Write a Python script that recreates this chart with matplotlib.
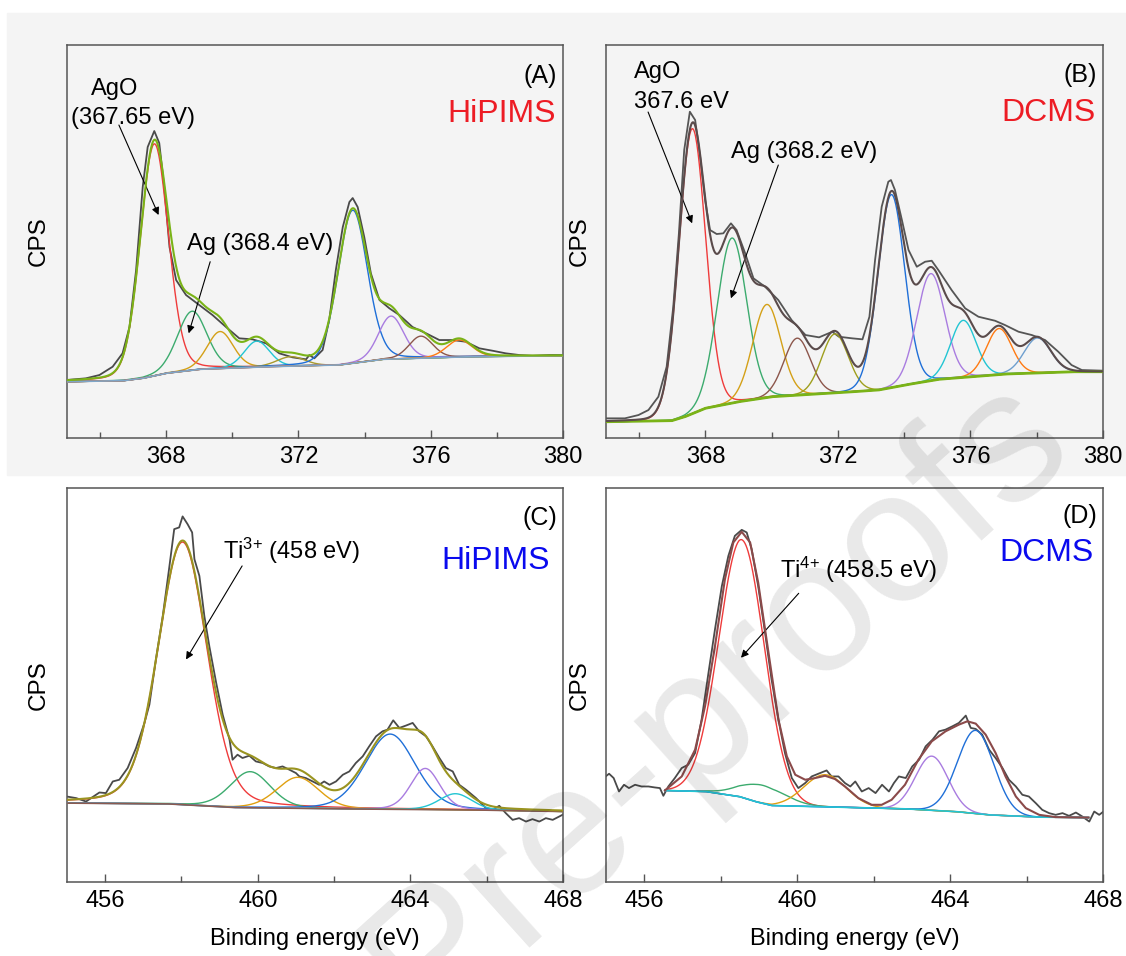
import numpy as np
import matplotlib
matplotlib.use('Agg')
import matplotlib.pyplot as plt
from matplotlib.patches import Rectangle
from matplotlib.ticker import MultipleLocator

plt.rcParams['font.family'] = ['Liberation Sans', 'DejaVu Sans']
plt.rcParams['mathtext.fontset'] = 'custom'
plt.rcParams['mathtext.rm'] = 'Liberation Sans'
plt.rcParams['mathtext.it'] = 'Liberation Sans:italic'

## (A) Ag 3d, HiPIMS  -- intensities in arbitrary units
a_raw_e = [364.97, 365.57, 365.98, 366.38, 366.68, 366.89, 367.09, 367.29, 367.44, 367.64,
           367.79, 367.94, 368.10, 368.30, 368.60, 369.00, 369.40, 369.81, 370.21, 370.61,
           371.02, 371.42, 371.82, 372.23, 372.33, 372.48, 372.73, 372.93, 373.13, 373.34,
           373.54, 373.64, 373.79, 373.99, 374.19, 374.45, 374.75, 375.05, 375.45, 375.86,
           376.26, 376.66, 377.06, 377.47, 377.87, 378.27, 378.68, 379.08, 379.58, 380.09]
a_raw_i = [58, 59.7, 63, 71.3, 84.7, 111, 168, 251, 291, 307,
           295, 251, 191, 158, 143, 133, 123, 111, 99.7, 98.7,
           94.7, 84.7, 80.7, 78.7, 83, 79.7, 88, 118, 168, 211,
           236, 240, 231, 201, 164.7, 138, 129.7, 123, 111, 104.7,
           98, 98, 96.3, 89.7, 87.3, 84.7, 83, 82.3, 83, 83]
a_bg_e = [365.0, 366.7, 367.29, 367.99, 369.0, 371.02, 373.23, 374.54, 377.07, 380.0]
a_bg_i = [56.3, 57.3, 59.7, 64.7, 68.7, 71.3, 73, 78.7, 81.3, 82.3]
a_pos = [367.64, 368.78, 369.63, 370.74, 371.77, 373.64, 374.80, 375.70, 376.86]
a_amp = [232, 59, 37, 26, 9.5, 153, 43, 22, 17]
a_fwhm = [1.0, 1.05, 0.93, 0.9, 1.0, 1.05, 0.9, 0.85, 0.9]

## (B) Ag 3d, DCMS
b_raw_e = [364.98, 365.57, 365.98, 366.28, 366.58, 366.83, 367.03, 367.20, 367.36, 367.53,
           367.69, 367.84, 367.99, 368.14, 368.34, 368.54, 368.77, 368.94, 369.20, 369.45,
           369.80, 370.20, 370.60, 371.02, 371.43, 371.83, 372.03, 372.43, 372.74, 372.95,
           373.12, 373.32, 373.52, 373.60, 373.72, 373.93, 374.13, 374.38, 374.63, 374.83,
           375.03, 375.43, 375.84, 376.24, 376.74, 377.04, 377.45, 377.85, 378.25, 378.65,
           379.05, 379.36, 380.06]
b_raw_i = [19.7, 19.7, 23, 28, 41.3, 71.3, 131.3, 204.7, 288, 326.3,
           318, 281.3, 238, 208, 204, 204.7, 214.7, 208, 184.7, 159.7,
           151.3, 138, 118, 103, 100.7, 106.3, 101.3, 99.7, 98.7, 121.3,
           178, 231.3, 256.3, 258, 248, 218, 188, 171.3, 176.3, 177.3,
           168, 148, 129.7, 121.3, 117.3, 113, 106.3, 103, 98, 86.3,
           73, 68, 67.3]
b_bg_e = [365.0, 366.98, 367.38, 367.99, 369.0, 370.0, 372.0, 373.22, 374.02, 375.03, 377.04, 379.05, 380.0]
b_bg_i = [16.3, 17.3, 21.3, 29.7, 36.3, 41.3, 45.3, 48, 53, 58.7, 64, 66.3, 66.3]
b_pos = [367.60, 368.80, 369.85, 370.77, 371.91, 373.61, 374.80, 375.78, 376.86, 378.02]
b_amp = [285, 165, 93, 57, 59, 193, 107, 57, 46, 35]
b_fwhm = [0.95, 1.05, 1.0, 0.95, 0.95, 0.95, 1.0, 0.9, 0.9, 0.95]

## (C) Ti 2p, HiPIMS
c_raw_e = [454.99, 455.24, 455.50, 455.67, 455.85, 456.02, 456.20, 456.37, 456.59, 456.81,
           457.03, 457.16, 457.33, 457.51, 457.68, 457.81, 457.94, 458.03, 458.16, 458.28,
           458.34, 458.47, 458.60, 458.73, 458.91, 459.08, 459.26, 459.34, 459.47, 459.60,
           459.78, 459.95, 460.13, 460.30, 460.48, 460.65, 460.83, 461.00, 461.09, 461.26,
           461.44, 461.61, 461.74, 461.88, 462.05, 462.23, 462.40, 462.57, 462.75, 462.92,
           463.10, 463.27, 463.40, 463.55, 463.71, 463.88, 464.06, 464.23, 464.41, 464.58,
           464.76, 464.93, 465.11, 465.28, 465.46, 465.72, 465.98, 466.15, 466.33, 466.50,
           466.68, 466.85, 467.03, 467.20, 467.38, 467.55, 467.73, 467.90, 468.07]
c_raw_i = [85.3, 83.7, 80.3, 84.7, 89.3, 88.7, 100.3, 102, 113.7, 133.7,
           158.7, 177, 222, 265.3, 313.7, 352, 353.7, 364.7, 357, 348.7,
           322, 305.3, 265.3, 235.3, 198.7, 167, 142, 122, 127, 123.7,
           126, 120.3, 118.7, 115.3, 113.7, 115.3, 112, 108.7, 105.3, 103.7,
           100.3, 97, 100.3, 97, 100.3, 107, 110.3, 118.7, 125.3, 135.3,
           145.3, 150.3, 152, 161.3, 153.7, 156, 158.7, 150.3, 145.3, 135.3,
           123.7, 113.7, 110.3, 97, 92, 83.7, 73.7, 72, 76, 68.7,
           62, 63.7, 60.3, 62.7, 60.3, 63.7, 62, 65.3, 68.7]
c_bg_e = [455.0, 457.6, 459.35, 461.96, 465.46, 468.0]
c_bg_i = [78.7, 78, 74.3, 73, 72, 70.3]
c_pos = [458.03, 459.80, 461.05, 463.47, 464.39, 465.18]
c_amp = [262, 36, 31, 75, 41, 16]
c_fwhm = [1.5, 1.25, 1.3, 1.55, 0.9, 1.0]

## (D) Ti 2p, DCMS
d_raw_e = [454.99, 455.08, 455.20, 455.34, 455.47, 455.60, 455.76, 455.93, 456.11, 456.28,
           456.41, 456.50, 456.63, 456.80, 456.98, 457.15, 457.33, 457.50, 457.68, 457.85,
           458.03, 458.20, 458.37, 458.55, 458.68, 458.81, 458.98, 459.16, 459.33, 459.51,
           459.68, 459.86, 460.03, 460.21, 460.38, 460.60, 460.77, 460.90, 461.08, 461.25,
           461.39, 461.52, 461.69, 461.87, 462.05, 462.22, 462.40, 462.53, 462.66, 462.84,
           463.01, 463.19, 463.36, 463.54, 463.71, 463.88, 464.06, 464.23, 464.41, 464.54,
           464.67, 464.84, 465.02, 465.19, 465.37, 465.54, 465.72, 465.89, 466.06, 466.24,
           466.41, 466.59, 466.76, 466.94, 467.11, 467.29, 467.46, 467.64, 467.77, 467.90,
           468.07]
d_raw_i = [105.3, 108, 103.7, 90.3, 97, 93.7, 97, 95.3, 95.3, 94.3,
           93.7, 86, 95.3, 103.7, 113.7, 117, 128.7, 162, 208.7, 252,
           295.3, 325.3, 345.3, 351.3, 348.7, 332, 295.3, 248.7, 202, 162,
           128.7, 103.7, 93.7, 98.7, 105.3, 108.7, 111.3, 105.3, 105.3, 98.7,
           95.3, 100.3, 90.3, 93.7, 88.7, 97, 90.3, 98.7, 105.3, 103.7,
           115.3, 122, 135.3, 142, 150.3, 152, 155.3, 158.7, 166, 153.7,
           152.7, 147, 132, 123.7, 113.7, 102, 95.3, 87, 85.3, 78.7,
           72, 68.7, 67, 68.7, 66, 69.3, 65.3, 60.3, 70.3, 67,
           72]
d_bg_e = [456.54, 457.6, 458.48, 458.9, 459.33, 461.08, 462.82, 464.13, 465.0, 466.31, 467.62]
d_bg_i = [91.3, 90.3, 85.3, 80.3, 76.3, 74.7, 73, 70.3, 67, 64.7, 64.3]
d_pos = [458.55, 459.09, 460.73, 463.52, 464.67]
d_amp = [257, 18, 32, 54, 83]
d_fwhm = [1.4, 1.4, 1.3, 1.0, 1.12]
# fitted envelope of (D)
d_env_e = [456.54, 456.98, 457.33, 457.59, 457.85, 458.11, 458.33, 458.55, 458.77, 458.98,
           459.25, 459.51, 459.73, 459.95, 460.21, 460.47, 460.73, 460.99, 461.25, 461.60,
           461.95, 462.21, 462.47, 462.82, 463.17, 463.52, 463.88, 464.23, 464.45, 464.67,
           464.93, 465.19, 465.45, 465.72, 465.98, 466.33, 466.76, 467.62]
d_env_i = [91.3, 105.3, 132, 175.3, 235.3, 302, 338.7, 349.3, 338.7, 298.7,
           228.7, 162, 125.3, 107, 102, 103.7, 106, 102.7, 95.3, 83.7,
           77, 77, 82, 97, 122, 140.3, 150.3, 157, 160.3, 158,
           147, 128.7, 105.3, 85.3, 73.7, 67, 64.7, 64.3]

# colours
RED, GRN, GLD, CYN, OLV = '#ef3b3b', '#3cab6e', '#d4a017', '#22c5d3', '#a89a2e'
BLU, PUR, BRN, ORG, STL = '#1f6fd8', '#a97ce0', '#8c564b', '#ff7a12', '#6e9fcf'
RAW = '#4a4a4a'
TOPBG = '#f4f4f4'


def peak(e, c, h, w, m):
    x2 = ((e - c) / w) ** 2
    return h * ((1 - m) * np.exp(-4 * np.log(2) * x2) + m / (1 + 4 * x2))


def draw_fit(ax, lo, hi, bg_e, bg_i, pos, amp, fwhm, m, colors, bg_col, env_col,
             bg_lw=1.2, env=None):
    e = np.linspace(lo, hi, 800)
    bg = np.interp(e, bg_e, bg_i)
    total = bg.copy()
    for c, h, w, col in zip(pos, amp, fwhm, colors):
        p = peak(e, c, h, w, m)
        total += p
        ax.plot(e, bg + p, color=col, lw=1.0, zorder=3)
    ax.plot(e, bg, color=bg_col, lw=bg_lw, zorder=4)
    if env is None:
        ax.plot(e, total, color=env_col, lw=1.5, zorder=5)
    else:
        ax.plot(env[0], env[1], color=env_col, lw=1.5, zorder=5)


def style(ax, xlim, top):
    ax.set_xlim(*xlim)
    ax.set_ylim(0, 393)
    ax.set_yticks([])
    ax.xaxis.set_major_locator(MultipleLocator(4))
    ax.xaxis.set_minor_locator(MultipleLocator(2))
    ax.tick_params(axis='x', which='major', direction='in', length=6, width=1,
                   colors='#555555', labelcolor='black', labelsize=17, pad=6)
    ax.tick_params(axis='x', which='minor', direction='in', length=4, width=1, colors='#555555')
    for s in ax.spines.values():
        s.set_color('#555555')
        s.set_linewidth(1.1)
    ax.set_facecolor(TOPBG if top else 'white')
    ax.set_ylabel('CPS', fontsize=17.5)


fig = plt.figure(figsize=(11.26, 9.56), dpi=100)
fig.patches.append(Rectangle((7 / 1126, (956 - 475) / 956), 1 - 7 / 1126, (475 - 13) / 956,
                             transform=fig.transFigure, color=TOPBG, zorder=-10))

axA = fig.add_axes([0.0595, 0.5418, 0.4405, 0.4111])
axB = fig.add_axes([0.5382, 0.5418, 0.4414, 0.4111])
axC = fig.add_axes([0.0595, 0.0774, 0.4405, 0.4121])
axD = fig.add_axes([0.5382, 0.0774, 0.4414, 0.4121])

arrow = dict(arrowstyle='-|>', color='black', lw=0.8, shrinkA=0, shrinkB=0, mutation_scale=11)

# (A)
style(axA, (365, 380), True)
axA.plot(a_raw_e, a_raw_i, color=RAW, lw=1.3, zorder=2)
draw_fit(axA, 365, 380, a_bg_e, a_bg_i, a_pos, a_amp, a_fwhm, 0.15,
         [RED, GRN, GLD, CYN, OLV, BLU, PUR, BRN, ORG], '#7ea6c9', '#7ab317')
axA.text(366.45, 343, 'AgO', fontsize=17, ha='center', va='baseline')
axA.text(367.0, 314, '(367.65 eV)', fontsize=17, ha='center', va='baseline')
axA.annotate('', xy=(367.77, 223), xytext=(366.57, 313), arrowprops=arrow)
axA.text(370.84, 188, 'Ag (368.4 eV)', fontsize=17, ha='center', va='baseline')
axA.annotate('', xy=(368.68, 104.7), xytext=(369.33, 176.3), arrowprops=arrow)
axA.text(0.988, 0.921, '(A)', transform=axA.transAxes, fontsize=18, ha='right', va='center')
axA.text(0.986, 0.824, 'HiPIMS', transform=axA.transAxes, fontsize=23, ha='right', va='center',
         color='#ed1c24')
axA.yaxis.set_label_coords(-0.034, 0.5)

# (B)
style(axB, (365, 380), True)
axB.plot(b_raw_e, b_raw_i, color='#555555', lw=1.3, zorder=2)
draw_fit(axB, 365, 380, b_bg_e, b_bg_i, b_pos, b_amp, b_fwhm, 0.05,
         [RED, GRN, GLD, BRN, '#9f9f1e', BLU, PUR, CYN, ORG, STL], '#7ab317', '#5a4b4b', bg_lw=2.0)
axB.text(365.85, 360, 'AgO', fontsize=17, ha='left', va='baseline')
axB.text(365.85, 330, '367.6 eV', fontsize=17, ha='left', va='baseline')
axB.annotate('', xy=(367.6, 214.7), xytext=(366.27, 326), arrowprops=arrow)
axB.text(370.98, 280, 'Ag (368.2 eV)', fontsize=17, ha='center', va='baseline')
axB.annotate('', xy=(368.77, 139.7), xytext=(370.2, 273), arrowprops=arrow)
axB.text(0.988, 0.925, '(B)', transform=axB.transAxes, fontsize=18, ha='right', va='center')
axB.text(0.986, 0.827, 'DCMS', transform=axB.transAxes, fontsize=23, ha='right', va='center',
         color='#ed1c24')
axB.yaxis.set_label_coords(-0.030, 0.5)

# (C)
style(axC, (455, 468), False)
axC.plot(c_raw_e, c_raw_i, color=RAW, lw=1.3, zorder=2)
draw_fit(axC, 455, 468, c_bg_e, c_bg_i, c_pos, c_amp, c_fwhm, 0.2,
         [RED, GRN, '#e0a010', BLU, PUR, CYN], '#8c5a50', '#9a9420')
axC.text(460.9, 322, r'Ti$^{3{+}}$ (458 eV)', fontsize=17, ha='center', va='baseline')
axC.annotate('', xy=(458.12, 222), xytext=(459.59, 315.3), arrowprops=arrow)
axC.text(0.988, 0.923, '(C)', transform=axC.transAxes, fontsize=18, ha='right', va='center')
axC.text(0.974, 0.816, 'HiPIMS', transform=axC.transAxes, fontsize=23, ha='right', va='center',
         color='#0a0aee')
axC.set_xlabel('Binding energy (eV)', fontsize=17)
axC.yaxis.set_label_coords(-0.034, 0.5)
axC.xaxis.set_label_coords(0.5, -0.118)

# (D)
style(axD, (455, 468), False)
axD.plot(d_raw_e, d_raw_i, color=RAW, lw=1.3, zorder=2)
draw_fit(axD, 456.54, 467.62, d_bg_e, d_bg_i, d_pos, d_amp, d_fwhm, 0.0,
         [RED, GRN, '#e0a010', PUR, BLU], CYN, '#8b4a4a', env=(d_env_e, d_env_i))
axD.text(461.59, 303.7, r'Ti$^{4{+}}$ (458.5 eV)', fontsize=17, ha='center', va='baseline')
axD.annotate('', xy=(458.53, 223.7), xytext=(460.04, 288), arrowprops=arrow)
axD.text(0.988, 0.928, '(D)', transform=axD.transAxes, fontsize=18, ha='right', va='center')
axD.text(0.982, 0.834, 'DCMS', transform=axD.transAxes, fontsize=23, ha='right', va='center',
         color='#0a0aee')
axD.set_xlabel('Binding energy (eV)', fontsize=17)
axD.yaxis.set_label_coords(-0.030, 0.5)
axD.xaxis.set_label_coords(0.5, -0.118)

# watermark of the source page
fig.text(0.958, 0.525, 'Journal Pre-proofs', fontsize=135, color='black', alpha=0.09,
         rotation=42, rotation_mode='anchor', ha='right', va='baseline', zorder=20)

fig.savefig('out.png', dpi=100)
